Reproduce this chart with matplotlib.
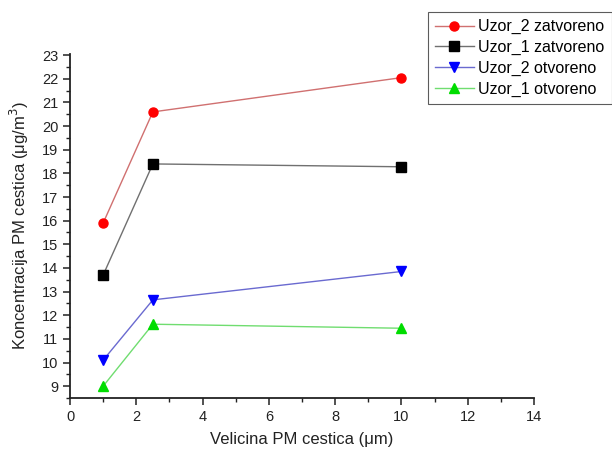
import matplotlib
matplotlib.use("Agg")
import matplotlib.pyplot as plt
from matplotlib.ticker import MultipleLocator

plt.rcParams['font.family'] = ['Liberation Sans', 'DejaVu Sans']

# particle size (um)
sizes = [1, 2.5, 10]

uzor2_zatvoreno = [15.9, 20.6, 22.05]
uzor1_zatvoreno = [13.7, 18.4, 18.28]
uzor2_otvoreno = [10.1, 12.65, 13.85]
uzor1_otvoreno = [9.0, 11.62, 11.45]

labels = ['Uzor_2 zatvoreno', 'Uzor_1 zatvoreno', 'Uzor_2 otvoreno', 'Uzor_1 otvoreno']
series = [uzor2_zatvoreno, uzor1_zatvoreno, uzor2_otvoreno, uzor1_otvoreno]
markers = ['o', 's', 'v', '^']
marker_colors = ['#ff0000', '#000000', '#0000ff', '#00dd00']
line_colors = ['#d07070', '#707070', '#6a6ad0', '#70dd70']

fig = plt.figure(figsize=(6.12, 4.5), dpi=100)
ax = fig.add_axes([0.1144, 0.1156, 0.7581, 0.7644])

for vals, lab, m, mc, lc in zip(series, labels, markers, marker_colors, line_colors):
    ax.plot(sizes, vals, color=lc, linewidth=1.0, marker=m, markersize=6.5,
            markerfacecolor=mc, markeredgecolor=mc, label=lab)

ax.set_xlim(0, 14)
ax.set_ylim(8.5, 23.05)
ax.xaxis.set_major_locator(MultipleLocator(2))
ax.xaxis.set_minor_locator(MultipleLocator(1))
ax.yaxis.set_minor_locator(MultipleLocator(0.5))
ax.set_yticks(range(9, 24))

for side in ['top', 'right']:
    ax.spines[side].set_visible(False)
for side in ['left', 'bottom']:
    ax.spines[side].set_linewidth(1.3)
    ax.spines[side].set_color('#222222')

ax.tick_params(which='major', direction='out', length=5, width=1.1, labelsize=10.5, colors='#222222')
ax.tick_params(which='minor', direction='out', length=3, width=1.0, colors='#222222')

ax.set_xlabel('Velicina PM cestica (\u03bcm)', fontsize=12, color='#222222', labelpad=6)
ax.set_ylabel('Koncentracija PM cestica (\u03bcg/m$^3$)', fontsize=12, color='#222222', labelpad=8)

leg = fig.legend(loc='upper left', bbox_to_anchor=(428 / 612, 1 - 12 / 450),
                 borderaxespad=0, fontsize=11.5, frameon=True, fancybox=False,
                 handlelength=2.4, handletextpad=0.3, labelspacing=0.35, borderpad=0.45)
leg.get_frame().set_edgecolor('#333333')
leg.get_frame().set_linewidth(0.8)

fig.savefig('out.png', dpi=100)
